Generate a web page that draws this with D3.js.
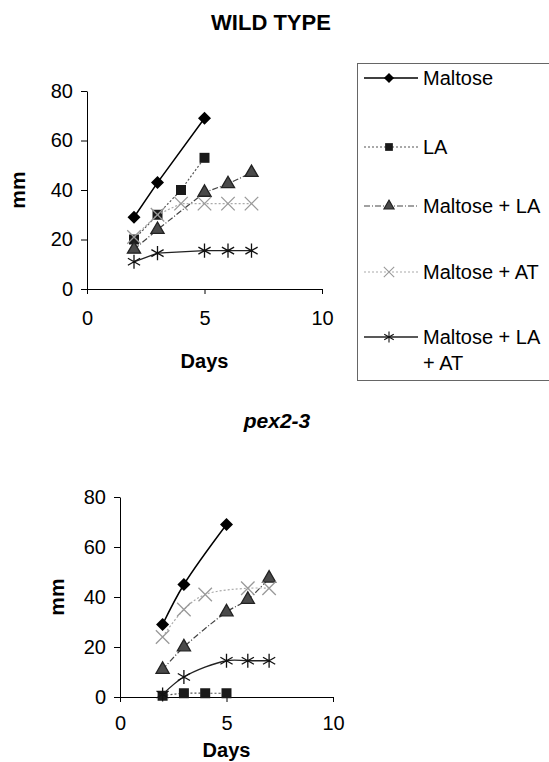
<!DOCTYPE html>
<html>
<head>
<meta charset="utf-8">
<script src="https://cdn.jsdelivr.net/npm/d3@7"></script>
<style>
  body { margin: 0; background: #fff; }
  svg { display: block; font-family: "Liberation Sans", Arial, sans-serif; }
</style>
</head>
<body>
<div id="chart"></div>
<script>
// Données (jours, mm)
const seriesNames = ["Maltose", "LA", "Maltose + LA", "Maltose + AT", "Maltose + LA + AT"];
const xTicks = [0, 5, 10];
const yTicks = [0, 20, 40, 60, 80];

// WILD TYPE
const wtMaltoseX = [2, 3, 5];
const wtMaltoseY = [29, 43, 69];
const wtLaX = [2, 3, 4, 5];
const wtLaY = [20, 30, 40, 53];
const wtMalLaX = [2, 3, 5, 6, 7];
const wtMalLaY = [16, 24, 39, 42.5, 47];
const wtMalAtX = [2, 3, 4, 5, 6, 7];
const wtMalAtY = [21, 30, 34.5, 34.5, 34.5, 34.5];
const wtAllX = [2, 3, 5, 6, 7];
const wtAllY = [11, 14.5, 15.5, 15.5, 15.5];

// pex2-3
const pexMaltoseX = [2, 3, 5];
const pexMaltoseY = [29, 45, 69];
const pexLaX = [2, 3, 4, 5];
const pexLaY = [0.5, 1.5, 1.5, 1.5];
const pexMalLaX = [2, 3, 5, 6, 7];
const pexMalLaY = [11, 20, 34, 39, 47.5];
const pexMalAtX = [2, 3, 4, 6, 7];
const pexMalAtY = [24, 35, 41, 43.5, 43.5];
const pexAllX = [2, 3, 5, 6, 7];
const pexAllY = [1, 8, 14.5, 14.5, 14.5];

// losange = carré tourné de 45°
const symDiamond = {
  draw(ctx, size) {
    const r = Math.sqrt(size) / 2 * Math.SQRT2;
    ctx.moveTo(0, -r); ctx.lineTo(r, 0); ctx.lineTo(0, r); ctx.lineTo(-r, 0); ctx.closePath();
  }
};

// Styles des séries (ordre = seriesNames)
const styles = [
  { line: "#000", dash: null, width: 1.5, sym: symDiamond, size: 85, fill: "#000", stroke: null },
  { line: "#555", dash: "2,2", width: 1.2, sym: d3.symbolSquare, size: 100, fill: "#1a1a1a", stroke: null },
  { line: "#444", dash: "6,2,1,2", width: 1.2, sym: d3.symbolTriangle, size: 75, fill: "#4a4a4a", stroke: "#222" },
  { line: "#aaa", dash: "2,2", width: 1.2, sym: d3.symbolTimes, size: 120, fill: "none", stroke: "#999" },
  { line: "#222", dash: null, width: 1.3, sym: d3.symbolAsterisk, size: 140, fill: "none", stroke: "#111" }
];

const W = 549, H = 762;
const svg = d3.select("#chart").append("svg")
  .attr("width", W).attr("height", H);
svg.append("rect").attr("width", W).attr("height", H).attr("fill", "#fff");

function zip(xs, ys) { return xs.map((d, i) => ({ x: d, y: ys[i] })); }

function drawPanel(opts) {
  const x = d3.scaleLinear().domain([0, 10]).range([opts.x0, opts.x1]);
  const y = d3.scaleLinear().domain([0, 80]).range([opts.y0, opts.y1]);
  const g = svg.append("g");

  // axes
  const ax = g.append("g").attr("transform", `translate(0,${opts.y0})`)
    .call(d3.axisBottom(x).tickValues(xTicks).tickSizeInner(5).tickSizeOuter(0).tickPadding(opts.xPad));
  const ay = g.append("g").attr("transform", `translate(${opts.x0},0)`)
    .call(d3.axisLeft(y).tickValues(yTicks).tickSizeInner(6).tickSizeOuter(0).tickPadding(8));
  [ax, ay].forEach(a => {
    a.selectAll("text").style("font-size", "20px").style("font-family", "Liberation Sans, Arial, sans-serif").attr("fill", "#000");
    a.selectAll("line,path").attr("stroke", "#000");
  });

  // séries
  opts.series.forEach((s, i) => {
    const st = styles[i];
    const pts = zip(s[0], s[1]);
    const line = d3.line().x(d => x(d.x)).y(d => y(d.y)).curve(opts.curve);
    g.append("path").datum(pts)
      .attr("d", line)
      .attr("fill", "none")
      .attr("stroke", st.line)
      .attr("stroke-width", st.width)
      .attr("stroke-dasharray", st.dash);
    g.selectAll(null).data(pts).enter().append("path")
      .attr("transform", d => `translate(${x(d.x)},${y(d.y)})`)
      .attr("d", d3.symbol().type(st.sym).size(st.size))
      .attr("fill", st.fill)
      .attr("stroke", st.stroke)
      .attr("stroke-width", 1.3);
  });

  // titres d'axes
  g.append("text")
    .attr("x", x(5)).attr("y", opts.daysY)
    .attr("text-anchor", "middle")
    .style("font-size", "20px").style("font-weight", "bold")
    .text("Days");
  g.append("text")
    .attr("transform", `translate(${opts.mmX},${(opts.y0 + opts.y1) / 2}) rotate(-90)`)
    .attr("text-anchor", "middle")
    .attr("dy", "0.35em")
    .style("font-size", "21px").style("font-weight", "bold")
    .text("mm");
}

// Titres
svg.append("text")
  .attr("x", 271).attr("y", 30)
  .attr("text-anchor", "middle")
  .style("font-size", "22px").style("font-weight", "bold")
  .text("WILD TYPE");
svg.append("text")
  .attr("x", 277).attr("y", 428)
  .attr("text-anchor", "middle")
  .style("font-size", "21px").style("font-weight", "bold").style("font-style", "italic")
  .text("pex2-3");

drawPanel({
  x0: 87, x1: 322, y0: 289, y1: 91, xPad: 17, daysY: 368, mmX: 18,
  curve: d3.curveLinear,
  series: [[wtMaltoseX, wtMaltoseY], [wtLaX, wtLaY], [wtMalLaX, wtMalLaY], [wtMalAtX, wtMalAtY], [wtAllX, wtAllY]]
});

drawPanel({
  x0: 120, x1: 333, y0: 697, y1: 497, xPad: 14, daysY: 757, mmX: 57,
  curve: d3.curveCatmullRom,
  series: [[pexMaltoseX, pexMaltoseY], [pexLaX, pexLaY], [pexMalLaX, pexMalLaY], [pexMalAtX, pexMalAtY], [pexAllX, pexAllY]]
});

// Légende
const legend = svg.append("g");
legend.append("rect")
  .attr("x", 357.5).attr("y", 63.5).attr("width", 220).attr("height", 317)
  .attr("fill", "none").attr("stroke", "#666").attr("stroke-width", 1);
const legendY = [78, 147, 206, 272, 337];
seriesNames.forEach((name, i) => {
  const st = styles[i];
  const gy = legendY[i];
  legend.append("line")
    .attr("x1", 364).attr("x2", 418).attr("y1", gy).attr("y2", gy)
    .attr("stroke", st.line).attr("stroke-width", st.width).attr("stroke-dasharray", st.dash);
  legend.append("path")
    .attr("transform", `translate(389,${gy})`)
    .attr("d", d3.symbol().type(st.sym).size(st.size * 0.6))
    .attr("fill", st.fill).attr("stroke", st.stroke).attr("stroke-width", 1.1);
  const t = legend.append("text")
    .attr("x", 423).attr("y", gy).attr("dy", "0.35em")
    .style("font-size", "20px");
  if (name === "Maltose + LA + AT") {
    t.text("Maltose + LA");
    legend.append("text").attr("x", 423).attr("y", gy + 26).attr("dy", "0.35em")
      .style("font-size", "20px").text("+ AT");
  } else {
    t.text(name);
  }
});
</script>
</body>
</html>
